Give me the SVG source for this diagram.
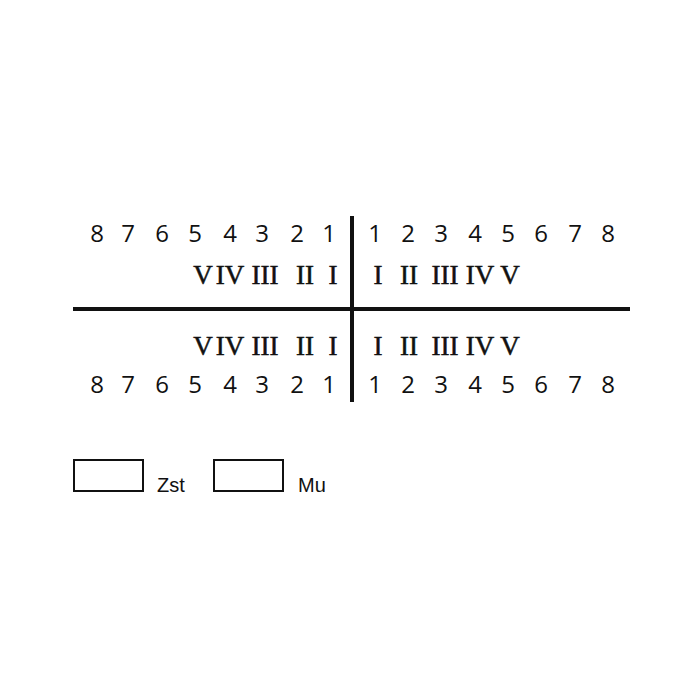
<svg xmlns="http://www.w3.org/2000/svg" width="700" height="700" viewBox="0 0 700 700">
<style>
.d{font-family:"Open Sans","Liberation Sans",sans-serif;font-size:24px;fill:#111;text-anchor:middle}
.r{font-family:"Liberation Serif",serif;font-size:27px;fill:#111;stroke:#111;stroke-width:0.5;text-anchor:middle}
.l{font-family:"Liberation Sans",Arial,sans-serif;font-size:20px;fill:#111}
.ln{stroke:#111;stroke-width:4;fill:none}
.bx{stroke:#111;stroke-width:2;fill:#fff}
</style>
<rect width="700" height="700" fill="#fff"/>
<g id="connectors">
<line class="ln" x1="73" y1="309" x2="630" y2="309"/>
<line class="ln" x1="352" y1="216" x2="352" y2="402"/>
</g>
<g id="upper-left">
<text class="d" y="242"><tspan x="97">8</tspan><tspan x="128">7</tspan><tspan x="162">6</tspan><tspan x="195">5</tspan><tspan x="230">4</tspan><tspan x="262">3</tspan><tspan x="297">2</tspan><tspan x="329">1</tspan></text>
<text class="r" y="284"><tspan x="203">V</tspan><tspan x="230">IV</tspan><tspan x="265">III</tspan><tspan x="305">II</tspan><tspan x="333">I</tspan></text>
</g>
<g id="upper-right">
<text class="d" y="242"><tspan x="375">1</tspan><tspan x="408">2</tspan><tspan x="441">3</tspan><tspan x="475">4</tspan><tspan x="508">5</tspan><tspan x="541">6</tspan><tspan x="575">7</tspan><tspan x="608">8</tspan></text>
<text class="r" y="284"><tspan x="378">I</tspan><tspan x="409">II</tspan><tspan x="445">III</tspan><tspan x="480">IV</tspan><tspan x="510">V</tspan></text>
</g>
<g id="lower-left">
<text class="r" y="355"><tspan x="203">V</tspan><tspan x="230">IV</tspan><tspan x="265">III</tspan><tspan x="305">II</tspan><tspan x="333">I</tspan></text>
<text class="d" y="393"><tspan x="97">8</tspan><tspan x="128">7</tspan><tspan x="162">6</tspan><tspan x="195">5</tspan><tspan x="230">4</tspan><tspan x="262">3</tspan><tspan x="297">2</tspan><tspan x="329">1</tspan></text>
</g>
<g id="lower-right">
<text class="r" y="355"><tspan x="378">I</tspan><tspan x="409">II</tspan><tspan x="445">III</tspan><tspan x="480">IV</tspan><tspan x="510">V</tspan></text>
<text class="d" y="393"><tspan x="375">1</tspan><tspan x="408">2</tspan><tspan x="441">3</tspan><tspan x="475">4</tspan><tspan x="508">5</tspan><tspan x="541">6</tspan><tspan x="575">7</tspan><tspan x="608">8</tspan></text>
</g>
<g id="legend-zst">
<rect class="bx" x="74" y="460" width="69" height="31"/>
<text class="l" x="157" y="492">Zst</text>
</g>
<g id="legend-mu">
<rect class="bx" x="214" y="460" width="69" height="31"/>
<text class="l" x="298" y="492">Mu</text>
</g>
</svg>
